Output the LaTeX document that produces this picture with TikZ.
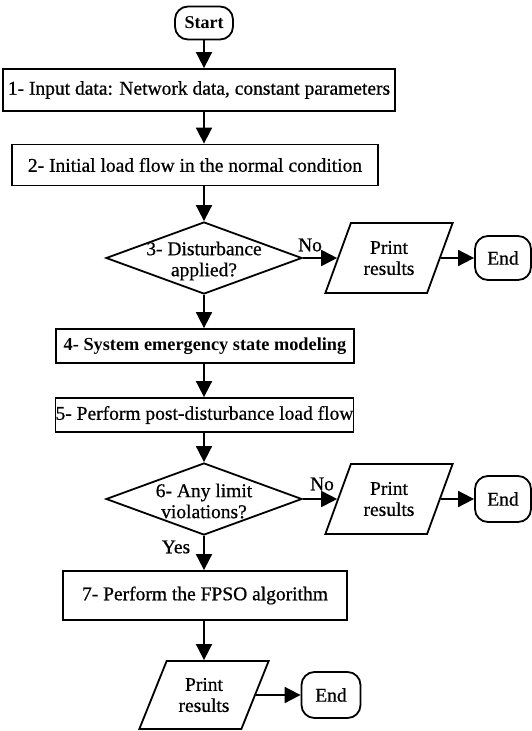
\documentclass[tikz,border=0pt]{standalone}
\usepackage{fontspec}
\setmainfont{Liberation Serif}
\newfontfamily\heavyserif{Liberation Serif}[FakeBold=0.7]
\usetikzlibrary{shapes.geometric,arrows.meta}

\begin{document}
\begin{tikzpicture}[x=1pt,y=-1pt,
  every node/.style={font=\heavyserif\fontsize{19.5}{21}\selectfont, inner sep=0pt},
  proc/.style={draw, rectangle, line width=1.8pt},
  term/.style={draw, rectangle, rounded corners=13pt, line width=1.8pt},
  decision/.style={draw, diamond, line width=1.8pt, minimum width=196pt, minimum height=72pt},
  io/.style={draw, trapezium, trapezium left angle=63.4, trapezium right angle=116.6,
    trapezium stretches=true, minimum width=128pt, minimum height=70pt,
    line width=1.8pt, align=center},
  arr/.style={line width=1.8pt, -{Triangle[length=16pt,width=16pt]}}
]
\useasboundingbox (0,0) rectangle (531,731);

% main column
\node[term, minimum width=58pt, minimum height=33pt,
      font=\bfseries\fontsize{18}{20}\selectfont] (start) at (204,23) {Start};
\node[proc, minimum width=392pt, minimum height=42pt] (b1) at (199,90)
  {1- Input data: Network data, constant parameters};
\node[proc, minimum width=366pt, minimum height=41pt] (b2) at (195,165)
  {2- Initial load flow in the normal condition};
\node[decision] (d3) at (204,258) {};
\node[align=center] (t3) at (204,261) {3- Disturbance\\applied?};
\node[proc, minimum width=298pt, minimum height=34pt,
      font=\bfseries\fontsize{18.3}{20}\selectfont] (b4) at (205,346)
  {4- System emergency state modeling};
\node[proc, minimum width=297pt, minimum height=34pt] (b5) at (204.5,415)
  {5- Perform post-disturbance load flow};
\node[decision] (d6) at (204,499) {};
\node[align=center] (t6) at (204,501) {6- Any limit\\violations?};
\node[proc, minimum width=284pt, minimum height=49pt] (b7) at (205,595.5)
  {7- Perform the FPSO algorithm};
\node[io, trapezium left angle=61.4, trapezium right angle=118.6,
      minimum width=130pt, minimum height=68pt] (p3) at (204,695) {Print\\results};
\node[term, minimum width=59pt, minimum height=46pt] (e3) at (331,695) {End};

% side branches
\node[io] (p1) at (389,258) {Print\\results};
\node[term, minimum width=56pt, minimum height=44pt] (e1) at (503,258) {End};
\node[io] (p2) at (389,499) {Print\\results};
\node[term, minimum width=56pt, minimum height=46pt] (e2) at (503,499) {End};

% branch labels
\node (no3) at (310,245) {No};
\node (no6) at (322,484) {No};
\node (yes6) at (176,547) {Yes};

% connectors
\draw[arr] (start.south) -- (start.south |- b1.north);
\draw[arr] (b1.south -| start) -- (b2.north -| start);
\draw[arr] (b2.south -| start) -- (d3.north);
\draw[arr] (d3.south) -- (d3.south |- b4.north);
\draw[arr] (b4.south -| d3) -- (b5.north -| d3);
\draw[arr] (b5.south -| d3) -- (d6.north);
\draw[arr] (d6.south) -- (d6.south |- b7.north);
\draw[arr] (b7.south -| d6) -- (p3);
\draw[arr] (d3.east) -- (p1);
\draw[arr] (p1) -- (e1);
\draw[arr] (d6.east) -- (p2);
\draw[arr] (p2) -- (e2);
\draw[arr] (p3) -- (e3);
\end{tikzpicture}
\end{document}
